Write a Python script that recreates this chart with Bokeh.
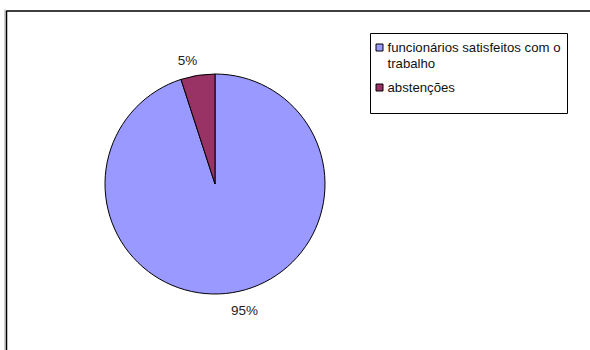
import math
from bokeh.plotting import figure
from bokeh.models import Range1d
from bokeh.core.properties import value
from bokeh.embed import file_html
from bokeh.resources import INLINE

categories = ["funcionários satisfeitos com o trabalho", "abstenções"]
values = [95, 5]
labels = ["95%", "5%"]
colors = ["#9999FF", "#993366"]

W, H = 590, 350
p = figure(width=W, height=H, x_range=Range1d(0, W), y_range=Range1d(0, H),
           output_backend="svg", toolbar_location=None, min_border=0)
p.axis.visible = False
p.grid.visible = False
p.outline_line_color = None
p.background_fill_color = "white"
p.border_fill_color = "white"

# outer chart-area border
p.line(x=[6, 6, 600], y=[-10, H - 10.5, H - 10.5], line_color="black", line_width=1.5)
p.line(x=[4.5, 4.5], y=[-10, H - 9], line_color="#888888", line_width=0.8)

cx, cy, r = 214.5, H - 183.5, 110
total = sum(values)
ang = math.pi / 2
starts, ends = [], []
for v in values:
    e = ang
    s = ang - v / total * 2 * math.pi
    starts.append(s)
    ends.append(e)
    ang = s
p.wedge(x=[cx] * len(values), y=[cy] * len(values), radius=r,
        start_angle=starts, end_angle=ends, fill_color=colors,
        line_color="black", line_width=1)

# labels
lab_pos = [(244, H - 310), (187, H - 60)]
for (lx, ly), t in zip(lab_pos, labels):
    p.text(x=[lx], y=[ly], text=[t], text_font=value("Liberation Sans"),
           text_font_size="13.5px", text_align="center", text_baseline="middle",
           text_color="#222222")

# legend box
p.quad(left=[370], right=[567], bottom=[H - 113], top=[H - 33],
       fill_color="white", line_color="black", line_width=1)
leg_rows = [(H - 47, ["funcionários satisfeitos com o", "trabalho"]), (H - 87, ["abstenções"])]
for (yy, lines), col in zip(leg_rows, colors):
    p.rect(x=[379], y=[yy], width=7, height=7, fill_color=col, line_color="black", line_width=1)
    for i, ln in enumerate(lines):
        p.text(x=[387], y=[yy - i * 16], text=[ln], text_font=value("Liberation Sans"),
               text_font_size="13.2px", text_align="left", text_baseline="middle",
               text_color="#111111")

open("out.html", "w").write(file_html(p, INLINE))
